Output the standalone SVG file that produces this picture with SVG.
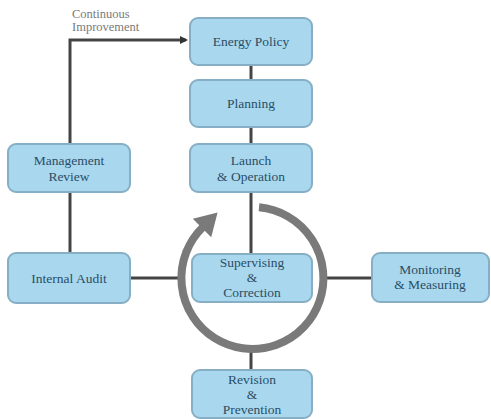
<svg xmlns="http://www.w3.org/2000/svg" width="491" height="419" viewBox="0 0 491 419">
<defs>
<style>
.box{fill:#a9d8ee;stroke:#86aec4;stroke-width:2}
.t{font-family:"Liberation Serif","DejaVu Serif",serif;font-size:13.5px;fill:#2a4d66;text-anchor:middle}
.c{stroke:#444;stroke-width:3;fill:none}
.lbl{font-family:"Liberation Serif","DejaVu Serif",serif;font-size:12.5px;fill:#7a7a7a}
</style>
<marker id="ah" markerWidth="8" markerHeight="8" refX="6" refY="4" orient="auto" markerUnits="userSpaceOnUse">
<path d="M0,0 L8,4 L0,8 Z" fill="#333"/>
</marker>
</defs>
<rect width="491" height="419" fill="#fff"/>
<g id="connectors">
<line class="c" x1="251" y1="65" x2="251" y2="80"/>
<line class="c" x1="251" y1="127" x2="251" y2="144"/>
<line class="c" x1="251" y1="192" x2="251" y2="254"/>
<line class="c" x1="251" y1="350" x2="251" y2="370"/>
<line class="c" x1="70" y1="192" x2="70" y2="253"/>
<line class="c" x1="130" y1="278" x2="180" y2="278"/>
<line class="c" x1="324" y1="278" x2="372" y2="278"/>
<path class="c" d="M70,144 V40 H186" marker-end="url(#ah)"/>
<text class="lbl" x="72" y="18">Continuous</text>
<text class="lbl" x="72" y="31">Improvement</text>
</g>
<g id="cycle">
<path d="M259,207.3 A71,71 0 1 1 203,227" fill="none" stroke="#7a7a7a" stroke-width="8"/>
<polygon points="192.8,218.8 211.2,237.2 217.6,212.4" fill="#7a7a7a"/>
</g>
<g id="energy-policy"><rect class="box" x="190" y="18" width="122" height="47" rx="8"/><text class="t" x="251" y="46">Energy Policy</text></g>
<g id="planning"><rect class="box" x="190" y="80" width="122" height="47" rx="8"/><text class="t" x="251" y="108">Planning</text></g>
<g id="launch"><rect class="box" x="190" y="144" width="122" height="48" rx="8"/><text class="t" x="251" y="165">Launch</text><text class="t" x="251" y="181">&amp; Operation</text></g>
<g id="management-review"><rect class="box" x="8" y="144" width="122" height="48" rx="8"/><text class="t" x="69" y="165">Management</text><text class="t" x="69" y="181">Review</text></g>
<g id="internal-audit"><rect class="box" x="8" y="253" width="122" height="50" rx="8"/><text class="t" x="69" y="283">Internal Audit</text></g>
<g id="supervising"><rect class="box" x="192" y="254" width="120" height="48" rx="8"/><text class="t" x="252" y="267">Supervising</text><text class="t" x="252" y="282">&amp;</text><text class="t" x="252" y="297">Correction</text></g>
<g id="monitoring"><rect class="box" x="372" y="253" width="117" height="49" rx="8"/><text class="t" x="430" y="274">Monitoring</text><text class="t" x="430" y="289">&amp; Measuring</text></g>
<g id="revision"><rect class="box" x="192" y="370" width="120" height="48" rx="8"/><text class="t" x="252" y="384">Revision</text><text class="t" x="252" y="399">&amp;</text><text class="t" x="252" y="414">Prevention</text></g>
</svg>
